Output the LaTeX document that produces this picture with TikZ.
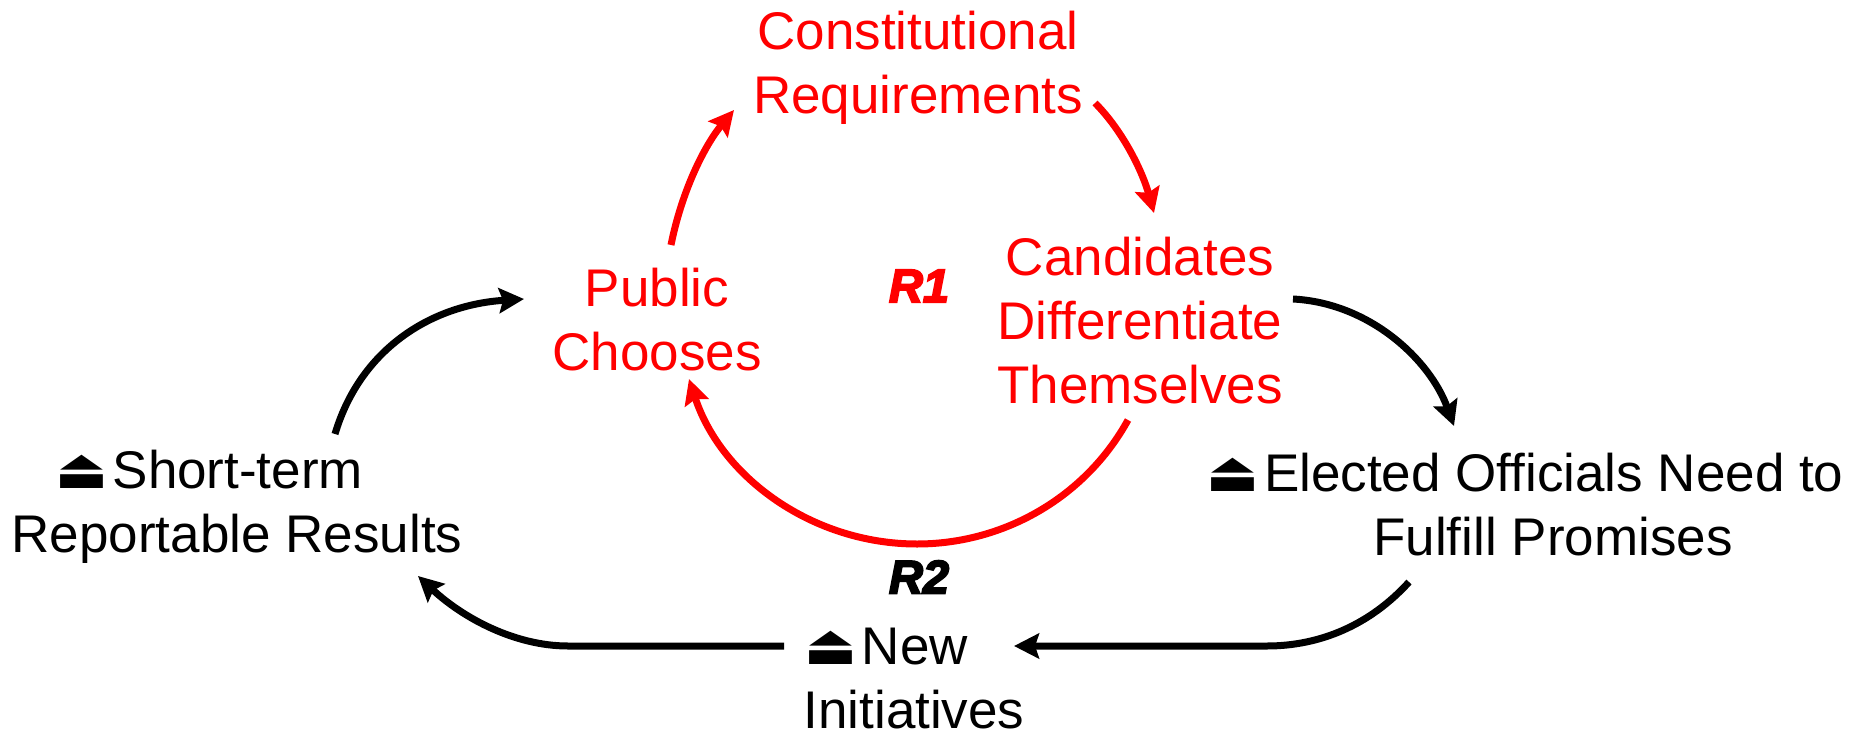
\documentclass[tikz,border=0pt]{standalone}
\usepackage{fontspec}
\setmainfont{Liberation Sans}
\newfontfamily\ejectfont{DejaVu Sans}
\newfontfamily\loopfont{Liberation Sans}[BoldItalicFeatures={FakeBold=4}]
\usetikzlibrary{arrows.meta}
\definecolor{loopred}{RGB}{255,0,0}
\newcommand{\ej}{{\ejectfont\fontsize{56}{64}\selectfont ⏏}\hspace{-10pt}}
\tikzset{
  lbl/.style={inner sep=0pt,align=center,font=\fontsize{53}{64}\selectfont,text=black},
  redlbl/.style={lbl,text=loopred},
  looplbl/.style={inner sep=0pt,font=\loopfont\bfseries\itshape\fontsize{47}{50}\selectfont},
  link/.style={draw=black,line width=7pt,-{Stealth[length=25pt,width=25pt,inset=4pt]}},
  redlink/.style={link,draw=loopred,color=loopred},
}
\begin{document}
\begin{tikzpicture}[x=1pt,y=-1pt]
\useasboundingbox (0,0) rectangle (1856,731);
\node[redlbl] (con) at (918,68) {Constitutional\\Requirements};
\node[redlbl] (pub) at (657,320) {Public\\Chooses};
\node[redlbl] (can) at (1140,321) {Candidates\\Differentiate\\Themselves};
\node[lbl] (ele) at (1553,505) {\ej\ Elected Officials Need to\hspace*{56pt}\\Fulfill Promises};
\node[lbl] (new) at (914,679) {\ej\ New\hspace*{56pt}\\Initiatives};
\node[lbl] (sho) at (237,507) {\ej\ Short-term\hspace*{56pt}\\Reportable Results};
\node[looplbl,text=loopred] (r1) at (919,286) {R1};
\node[looplbl,text=black] (r2) at (919,577) {R2};
% red loop
\draw[redlink] ([shift={(14,-75)}]pub.center) .. controls +(11,-55) and +(-29,35) .. ([shift={(-184,42)}]con.center);
\draw[redlink] ([shift={(177,35)}]con.center) .. controls +(27,27) and +(-12,-43) .. ([shift={(14,-108)}]can.center);
\draw[redlink] ([shift={(-12,99)}]can.center) .. controls +(-42.2,76.7) and +(87.5,0) .. (917,544) .. controls +(-104,0) and +(32.5,98.8) .. ([shift={(32,59)}]pub.center);
% black loop
\draw[link] ([shift={(153,-22)}]can.center) .. controls +(77,4) and +(-24,-66) .. ([shift={(-99,-79)}]ele.center);
\draw[link] ([shift={(-144,77)}]ele.center) .. controls +(-39,43) and +(53,0) .. (1267,646) -- ([shift={(100,-33)}]new.center);
\draw[link] ([shift={(-130,-33)}]new.center) -- (568,646) .. controls +(-53,0) and +(45,42) .. ([shift={(181,69)}]sho.center);
\draw[link] ([shift={(98,-73)}]sho.center) .. controls +(25,-84) and +(-94,6) .. ([shift={(-133,-21)}]pub.center);
\end{tikzpicture}
\end{document}
